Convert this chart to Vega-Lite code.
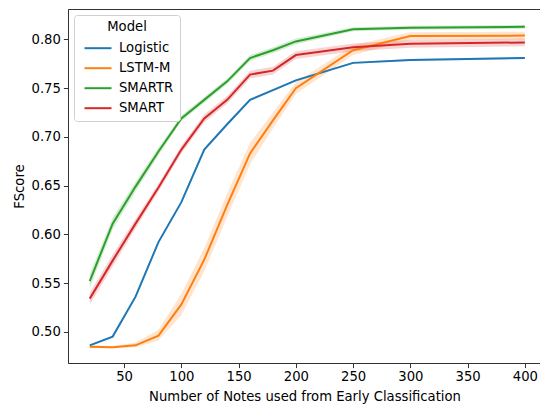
{
  "$schema": "https://vega.github.io/schema/vega-lite/v6.json",
  "autosize": {"type": "none"},
  "padding": {"left": 68, "top": 9, "right": 0, "bottom": 42},
  "width": 473,
  "height": 354,
  "config": {
    "font": "DejaVu Sans",
    "view": {"stroke": "#333", "strokeWidth": 1},
    "axis": {"labelFont": "DejaVu Sans", "titleFont": "DejaVu Sans", "labelFontSize": 13.2, "titleFontSize": 13.2, "titleFontWeight": "normal", "labelColor": "#000", "titleColor": "#000", "tickColor": "#333", "domainColor": "#333", "grid": false, "tickSize": 4.6, "labelPadding": 3}
  },
  "data": {"values": [
    {"x": 20, "model": "Logistic", "f": 0.486, "lo": 0.485, "hi": 0.487},
    {"x": 40, "model": "Logistic", "f": 0.495, "lo": 0.494, "hi": 0.496},
    {"x": 60, "model": "Logistic", "f": 0.536, "lo": 0.535, "hi": 0.537},
    {"x": 80, "model": "Logistic", "f": 0.592, "lo": 0.591, "hi": 0.593},
    {"x": 100, "model": "Logistic", "f": 0.633, "lo": 0.632, "hi": 0.634},
    {"x": 120, "model": "Logistic", "f": 0.687, "lo": 0.686, "hi": 0.688},
    {"x": 140, "model": "Logistic", "f": 0.713, "lo": 0.712, "hi": 0.714},
    {"x": 160, "model": "Logistic", "f": 0.738, "lo": 0.737, "hi": 0.739},
    {"x": 180, "model": "Logistic", "f": 0.748, "lo": 0.747, "hi": 0.749},
    {"x": 200, "model": "Logistic", "f": 0.758, "lo": 0.757, "hi": 0.759},
    {"x": 250, "model": "Logistic", "f": 0.776, "lo": 0.775, "hi": 0.777},
    {"x": 300, "model": "Logistic", "f": 0.779, "lo": 0.778, "hi": 0.780},
    {"x": 400, "model": "Logistic", "f": 0.781, "lo": 0.780, "hi": 0.782},
    {"x": 20, "model": "LSTM-M", "f": 0.4845, "lo": 0.483, "hi": 0.486},
    {"x": 40, "model": "LSTM-M", "f": 0.484, "lo": 0.483, "hi": 0.485},
    {"x": 60, "model": "LSTM-M", "f": 0.486, "lo": 0.484, "hi": 0.489},
    {"x": 80, "model": "LSTM-M", "f": 0.496, "lo": 0.491, "hi": 0.502},
    {"x": 100, "model": "LSTM-M", "f": 0.528, "lo": 0.517, "hi": 0.539},
    {"x": 120, "model": "LSTM-M", "f": 0.574, "lo": 0.562, "hi": 0.586},
    {"x": 140, "model": "LSTM-M", "f": 0.630, "lo": 0.618, "hi": 0.642},
    {"x": 160, "model": "LSTM-M", "f": 0.683, "lo": 0.672, "hi": 0.694},
    {"x": 180, "model": "LSTM-M", "f": 0.717, "lo": 0.709, "hi": 0.725},
    {"x": 200, "model": "LSTM-M", "f": 0.750, "lo": 0.744, "hi": 0.756},
    {"x": 250, "model": "LSTM-M", "f": 0.789, "lo": 0.784, "hi": 0.794},
    {"x": 300, "model": "LSTM-M", "f": 0.8035, "lo": 0.7995, "hi": 0.8075},
    {"x": 400, "model": "LSTM-M", "f": 0.804, "lo": 0.800, "hi": 0.808},
    {"x": 20, "model": "SMARTR", "f": 0.552, "lo": 0.545, "hi": 0.559},
    {"x": 40, "model": "SMARTR", "f": 0.611, "lo": 0.605, "hi": 0.617},
    {"x": 60, "model": "SMARTR", "f": 0.649, "lo": 0.644, "hi": 0.654},
    {"x": 80, "model": "SMARTR", "f": 0.685, "lo": 0.681, "hi": 0.689},
    {"x": 100, "model": "SMARTR", "f": 0.719, "lo": 0.716, "hi": 0.722},
    {"x": 120, "model": "SMARTR", "f": 0.738, "lo": 0.735, "hi": 0.741},
    {"x": 140, "model": "SMARTR", "f": 0.757, "lo": 0.754, "hi": 0.760},
    {"x": 160, "model": "SMARTR", "f": 0.781, "lo": 0.778, "hi": 0.784},
    {"x": 180, "model": "SMARTR", "f": 0.789, "lo": 0.786, "hi": 0.792},
    {"x": 200, "model": "SMARTR", "f": 0.798, "lo": 0.795, "hi": 0.801},
    {"x": 250, "model": "SMARTR", "f": 0.8105, "lo": 0.8085, "hi": 0.8125},
    {"x": 300, "model": "SMARTR", "f": 0.812, "lo": 0.810, "hi": 0.814},
    {"x": 400, "model": "SMARTR", "f": 0.813, "lo": 0.811, "hi": 0.815},
    {"x": 20, "model": "SMART", "f": 0.534, "lo": 0.528, "hi": 0.540},
    {"x": 40, "model": "SMART", "f": 0.573, "lo": 0.567, "hi": 0.579},
    {"x": 60, "model": "SMART", "f": 0.611, "lo": 0.606, "hi": 0.616},
    {"x": 80, "model": "SMART", "f": 0.648, "lo": 0.644, "hi": 0.652},
    {"x": 100, "model": "SMART", "f": 0.687, "lo": 0.683, "hi": 0.691},
    {"x": 120, "model": "SMART", "f": 0.719, "lo": 0.715, "hi": 0.723},
    {"x": 140, "model": "SMART", "f": 0.738, "lo": 0.734, "hi": 0.742},
    {"x": 160, "model": "SMART", "f": 0.764, "lo": 0.760, "hi": 0.768},
    {"x": 180, "model": "SMART", "f": 0.768, "lo": 0.764, "hi": 0.772},
    {"x": 200, "model": "SMART", "f": 0.784, "lo": 0.780, "hi": 0.788},
    {"x": 250, "model": "SMART", "f": 0.792, "lo": 0.788, "hi": 0.796},
    {"x": 300, "model": "SMART", "f": 0.7955, "lo": 0.7915, "hi": 0.7995},
    {"x": 400, "model": "SMART", "f": 0.797, "lo": 0.793, "hi": 0.801}
  ]},
  "encoding": {
    "x": {"field": "x", "type": "quantitative", "scale": {"domain": [1, 414.1], "nice": false, "zero": false}, "axis": {"values": [50, 100, 150, 200, 250, 300, 350, 400], "title": "Number of Notes used from Early Classification", "titlePadding": 8}},
    "color": {"field": "model", "type": "nominal", "scale": {"domain": ["Logistic", "LSTM-M", "SMARTR", "SMART"], "range": ["#1f77b4", "#ff7f0e", "#2ca02c", "#d62728"]}, "legend": {"title": "Model", "orient": "top-left", "offset": 6, "padding": 6, "strokeColor": "#d0d0d0", "fillColor": "white", "cornerRadius": 3, "titleAnchor": "middle", "titleFontWeight": "normal", "titleFontSize": 13.2, "labelFontSize": 13.2, "titleColor": "#000", "labelColor": "#000", "symbolType": "M-2,0L2,0", "symbolSize": 182, "symbolStrokeWidth": 2, "symbolOpacity": 1, "symbolOffset": 10, "labelOffset": 13, "rowPadding": 5, "titlePadding": 6}}
  },
  "layer": [
    {
      "mark": {"type": "area", "opacity": 0.2},
      "encoding": {
        "y": {"field": "lo", "type": "quantitative", "scale": {"domain": [0.4679, 0.8313], "nice": false, "zero": false}},
        "y2": {"field": "hi"}
      }
    },
    {
      "mark": {"type": "line", "strokeWidth": 2},
      "encoding": {
        "y": {"field": "f", "type": "quantitative", "axis": {"values": [0.5, 0.55, 0.6, 0.65, 0.7, 0.75, 0.8], "format": ".2f", "title": "FScore", "titlePadding": 5}}
      }
    }
  ]
}
